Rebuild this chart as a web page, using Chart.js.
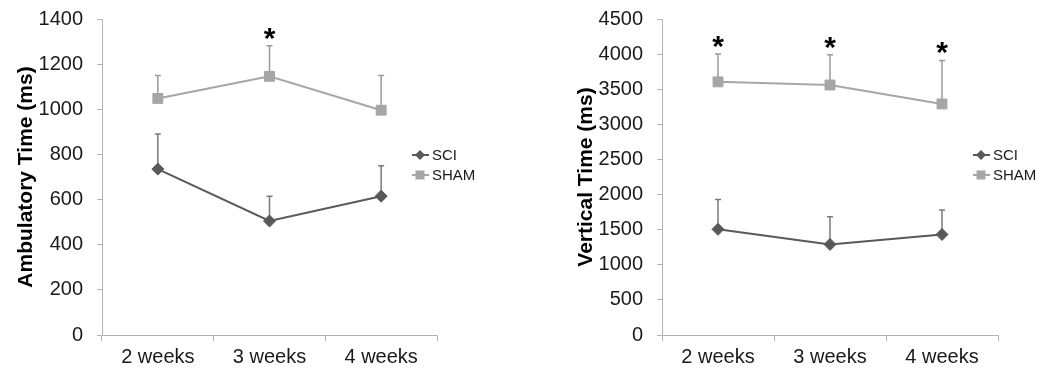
<!DOCTYPE html>
<html>
<head>
<meta charset="utf-8">
<script src="https://cdn.jsdelivr.net/npm/chart.js@4.4.1/dist/chart.umd.min.js"></script>
<style>
html, body { margin: 0; padding: 0; background: #fff; }
#wrap { position: relative; width: 1040px; height: 370px; }
.box { position: absolute; top: 0; width: 520px; height: 370px; }
</style>
</head>
<body>
<div id="wrap">
  <div class="box" style="left:0"><canvas id="ambChart" width="520" height="370"></canvas></div>
  <div class="box" style="left:520px"><canvas id="vertChart" width="520" height="370"></canvas></div>
</div>
<script>
const weeks = ['2 weeks', '3 weeks', '4 weeks'];
const seriesNames = ['SCI', 'SHAM'];

// ambulatory time (ms): mean and top of error bar
const ambSci = [735, 505, 615];
const ambSciErr = [890, 615, 750];
const ambSham = [1048, 1146, 996];
const ambShamErr = [1150, 1282, 1150];
const ambStars = [false, true, false];

// vertical time (ms)
const vertSci = [1505, 1290, 1432];
const vertSciErr = [1930, 1685, 1780];
const vertSham = [3605, 3560, 3290];
const vertShamErr = [4000, 3990, 3910];
const vertStars = [true, true, true];

const FONT = 'Liberation Sans, Arial, sans-serif';
const AXIS_COLOR = '#b3b3b3';
const SCI_COLOR = '#595959';
const SHAM_COLOR = '#a6a6a6';

const errorBars = {
    id: 'errorBars',
    beforeDatasetsDraw(chart) {
        const ctx = chart.ctx;
        const y = chart.scales.y;
        chart.data.datasets.forEach((ds, i) => {
            const meta = chart.getDatasetMeta(i);
            ctx.save();
            ctx.strokeStyle = ds.errColor;
            ctx.lineWidth = 1.5;
            meta.data.forEach((pt, j) => {
                const top = y.getPixelForValue(ds.errTop[j]);
                ctx.beginPath();
                ctx.moveTo(pt.x, pt.y);
                ctx.lineTo(pt.x, top);
                ctx.moveTo(pt.x - 3, top);
                ctx.lineTo(pt.x + 3, top);
                ctx.stroke();
            });
            ctx.restore();
        });
    }
};

const stars = {
    id: 'stars',
    afterDatasetsDraw(chart, args, opts) {
        const ctx = chart.ctx;
        const x = chart.scales.x;
        const y = chart.scales.y;
        ctx.save();
        ctx.font = 'bold 30px ' + FONT;
        ctx.fillStyle = '#000';
        ctx.textAlign = 'center';
        ctx.textBaseline = 'alphabetic';
        const m = ctx.measureText('*');
        const shift = (m.actualBoundingBoxDescent - m.actualBoundingBoxAscent) / 2;
        opts.flags.forEach((on, j) => {
            if (!on) return;
            const top = Math.max(...chart.data.datasets.map(ds => ds.errTop[j]));
            const cy = y.getPixelForValue(top) - 12;
            ctx.fillText('*', x.getPixelForValue(j), cy - shift);
        });
        ctx.restore();
    }
};

const sideLegend = {
    id: 'sideLegend',
    afterDraw(chart) {
        const ctx = chart.ctx;
        const area = chart.chartArea;
        const x0 = area.right - 25;
        const mid = (area.top + area.bottom) / 2;
        ctx.save();
        chart.data.datasets.forEach((ds, i) => {
            const cy = mid - 22 + i * 20;
            const cx = x0 + 8;
            ctx.strokeStyle = ds.borderColor;
            ctx.fillStyle = ds.borderColor;
            ctx.lineWidth = 2;
            ctx.beginPath();
            ctx.moveTo(x0, cy);
            ctx.lineTo(x0 + 17, cy);
            ctx.stroke();
            ctx.beginPath();
            if (ds.pointStyle === 'rectRot') {
                ctx.moveTo(cx, cy - 5);
                ctx.lineTo(cx + 5, cy);
                ctx.lineTo(cx, cy + 5);
                ctx.lineTo(cx - 5, cy);
                ctx.closePath();
            } else {
                ctx.rect(cx - 4.5, cy - 4.5, 9, 9);
            }
            ctx.fill();
            ctx.fillStyle = '#1a1a1a';
            ctx.font = '15px ' + FONT;
            ctx.textAlign = 'left';
            ctx.textBaseline = 'middle';
            ctx.fillText(ds.label, x0 + 20, cy + 1);
        });
        ctx.restore();
    }
};

function makeChart(id, title, max, step, sci, sciErr, sham, shamErr, flags, yWidth, padRight, titlePad) {
    const ctx = document.getElementById(id).getContext('2d');
    return new Chart(ctx, {
        type: 'line',
        data: {
            labels: weeks,
            datasets: [{
                label: seriesNames[0],
                data: sci,
                errTop: sciErr,
                errColor: '#7a7a7a',
                borderColor: SCI_COLOR,
                backgroundColor: SCI_COLOR,
                pointBackgroundColor: SCI_COLOR,
                pointBorderColor: SCI_COLOR,
                pointStyle: 'rectRot',
                pointRadius: 6,
                pointBorderWidth: 1,
                borderWidth: 2,
                tension: 0
            }, {
                label: seriesNames[1],
                data: sham,
                errTop: shamErr,
                errColor: '#9a9a9a',
                borderColor: SHAM_COLOR,
                backgroundColor: SHAM_COLOR,
                pointBackgroundColor: SHAM_COLOR,
                pointBorderColor: SHAM_COLOR,
                pointStyle: 'rect',
                pointRadius: 7,
                pointBorderWidth: 1,
                borderWidth: 2,
                tension: 0
            }]
        },
        options: {
            responsive: false,
            animation: false,
            layout: { padding: { left: 0, top: 19, right: padRight, bottom: 0 } },
            scales: {
                x: {
                    offset: true,
                    grid: { offset: true, drawOnChartArea: false, tickLength: 6, color: AXIS_COLOR },
                    border: { color: AXIS_COLOR },
                    ticks: { font: { family: FONT, size: 20 }, color: '#1a1a1a', padding: 4 },
                    afterFit(s) { s.height = 35; s.paddingLeft = 0; s.paddingRight = 0; }
                },
                y: {
                    min: 0,
                    max: max,
                    ticks: {
                        stepSize: step,
                        font: { family: FONT, size: 20 },
                        color: '#1a1a1a',
                        padding: 14,
                        callback: v => String(v)
                    },
                    grid: { drawOnChartArea: false, tickLength: 5, color: AXIS_COLOR },
                    border: { color: AXIS_COLOR },
                    title: {
                        display: true,
                        text: title,
                        color: '#000',
                        font: { family: FONT, size: 21, weight: 'bold' },
                        padding: { top: titlePad, bottom: 0 }
                    },
                    afterFit(s) { s.width = yWidth; s.paddingTop = 0; s.paddingBottom = 0; }
                }
            },
            plugins: {
                legend: { display: false },
                tooltip: { enabled: false },
                stars: { flags: flags }
            }
        },
        plugins: [errorBars, stars, sideLegend]
    });
}

makeChart('ambChart', 'Ambulatory Time (ms)', 1400, 200,
    ambSci, ambSciErr, ambSham, ambShamErr, ambStars, 102, 83, 14);
makeChart('vertChart', 'Vertical Time (ms)', 4500, 500,
    vertSci, vertSciErr, vertSham, vertShamErr, vertStars, 142, 42, 54);
</script>
</body>
</html>
